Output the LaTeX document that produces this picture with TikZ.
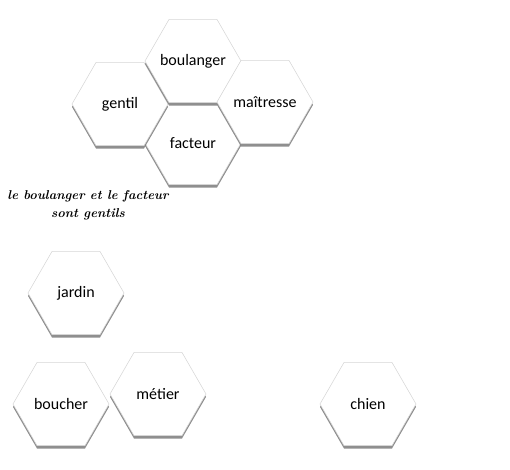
\documentclass[tikz,border=0pt]{standalone}
\usepackage{fontspec}
\newfontfamily\hexfont{Carlito}
\usetikzlibrary{shapes.geometric,shadows}
\definecolor{edge}{rgb}{0.84,0.84,0.84}
\definecolor{bevel}{rgb}{0.45,0.45,0.45}

\begin{document}
\begin{tikzpicture}[x=0.75pt,y=0.75pt,yscale=-1,xscale=1,
  hexa/.style={regular polygon, regular polygon sides=6, minimum size=72pt, inner sep=-8pt,
    draw=edge, line width=0.4pt, fill=white,
    drop shadow={shadow xshift=0pt, shadow yshift=-2.2pt, fill=bevel, opacity=0.8},
    font=\hexfont\fontsize{12}{14}\selectfont}]
%set diagram left start at 0, and has height of 470
\path[use as bounding box] (0,0) rectangle (510,470);

%Shape: Hexagon [facteur]
\node (facteur) at (193,143) [hexa] {facteur};
%Shape: Hexagon [gentil]
\node (gentil) at (120,104) [hexa] {gentil};
%Shape: Hexagon [boulanger]
\node (boulanger) at (193,61) [hexa] {boulanger};
%Shape: Hexagon [maitresse]
\node (maitresse) at (265,102) [hexa] {maîtresse};

%Shape: Hexagon [jardin]
\node (jardin) at (76,293) [hexa] {jardin};
%Shape: Hexagon [boucher]
\node (boucher) at (61,404) [hexa] {boucher};
%Shape: Hexagon [metier]
\node (metier) at (158,394) [hexa] {métier};
%Shape: Hexagon [chien]
\node (chien) at (368,404) [hexa] {chien};

% Text Node
\node (phrase) at (88,205) [align=center, font=\itshape\bfseries\fontsize{9.6}{13.5}\selectfont] {le boulanger et le facteur\\sont gentils};

\end{tikzpicture}
\end{document}
